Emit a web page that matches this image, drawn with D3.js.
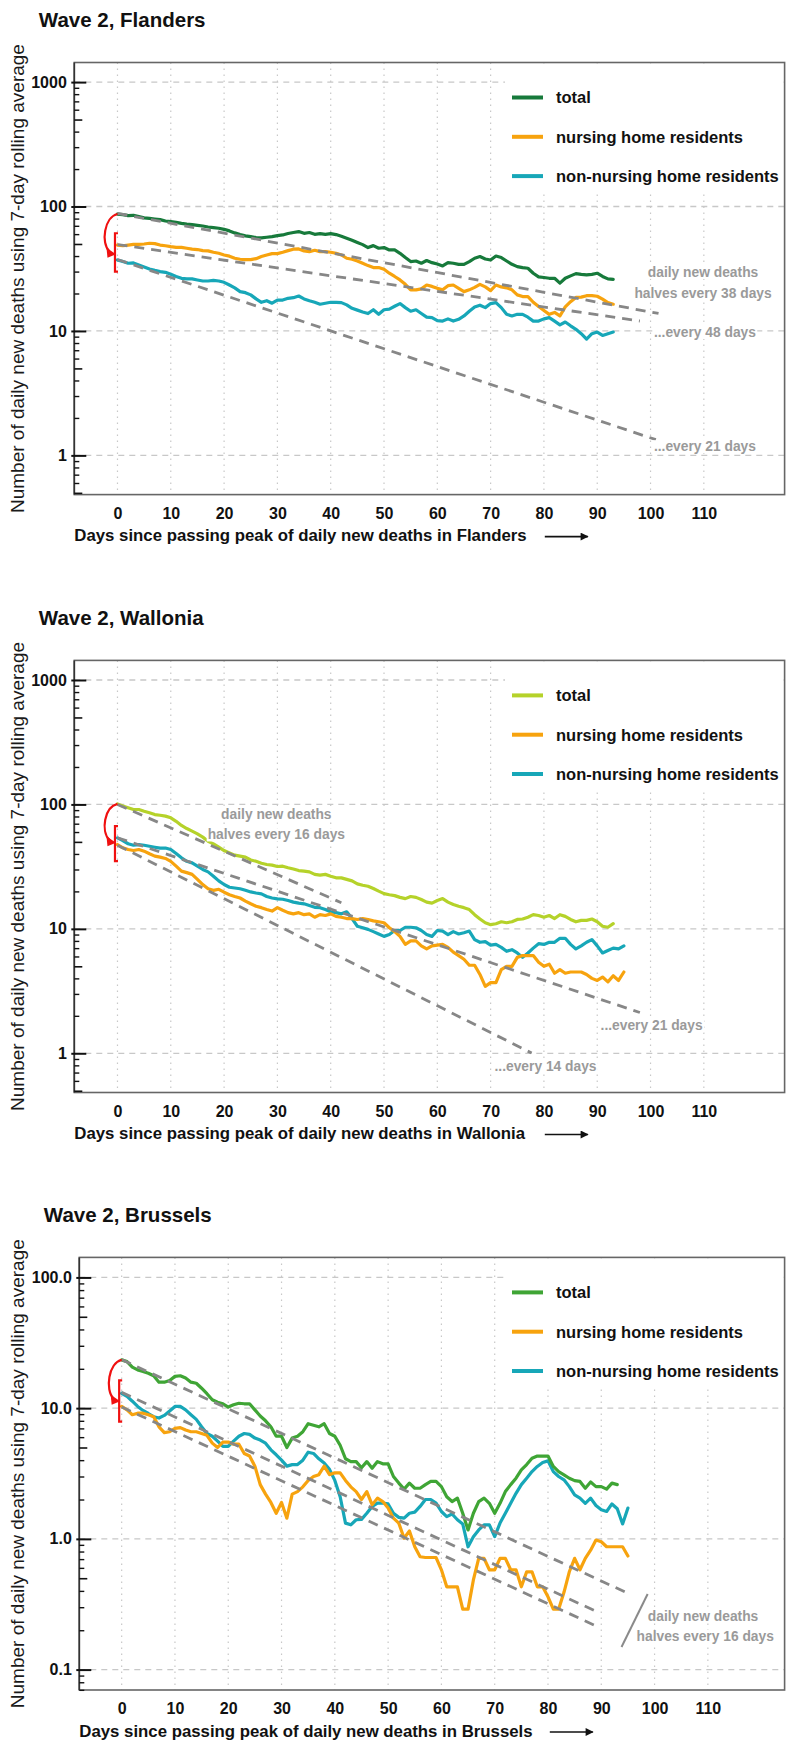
<!DOCTYPE html>
<html><head><meta charset="utf-8">
<script src="https://cdn.jsdelivr.net/npm/d3@7"></script>
<style>
body{margin:0;background:#fff;}
svg{display:block;}
text{font-family:"Liberation Sans",Arial,Helvetica,sans-serif;}
</style></head><body>
<svg id="chart" width="787" height="1741"></svg>
<script>
// ---------------- data (index = days since passing the peak) ----------------
const regionNames = ["Flanders", "Wallonia", "Brussels"];
const seriesNames = ["total", "nursing home residents", "non-nursing home residents"];
const xTickValues = [0,10,20,30,40,50,60,70,80,90,100,110];
const yTicksFW = [1,10,100,1000];
const yTickLabelsFW = ["1","10","100","1000"];
const yTicksB = [0.1,1,10,100];
const yTickLabelsB = ["0.1","1.0","10.0","100.0"];

const flandersTotal = [87,86,84.5,85,83,81,80.4,79.4,78.4,76.5,75.6,74.6,73.3,72.3,71.5,70.6,69.7,68.5,67.7,66.9,65.6,63.7,61.4,59.5,58.1,57.3,56.3,55.9,56.6,57.3,58.4,59.1,60.7,61.8,62.9,60.9,61.8,59.8,60.5,59.8,60.5,59.5,57.6,55.6,53.6,51.4,49.4,46.8,48.5,46.2,46.8,44.8,44.8,42.1,38.9,36.1,36.5,35.0,36.8,35.4,34.5,33.3,35.4,35.0,34.3,34.3,36.1,38.4,39.6,37.9,37.2,40.0,38.9,36.5,34.3,32.9,32.3,31.9,29.1,27.2,26.9,26.5,26.5,24.2,26.5,27.7,28.9,28.5,28.2,28.5,29.1,27.4,26.2,26.0];
const flandersNursing = [49,48.4,49,49.7,49.7,50,50.7,50.3,49,48.4,47.6,47,47,46.2,45.4,45.1,44.2,44,42.9,42.1,40.8,39.9,38.4,37.7,37.4,37.4,38.1,39.6,40.8,41.8,41.8,42.9,44.2,45.4,45.6,44,43.4,44.5,43.4,43.4,42.9,42.1,40.8,38.4,37.7,36.5,35,33.5,32.3,32.3,31.3,29.1,27.4,25.7,23.7,21.4,21.4,21.8,23.4,22.8,22,21.4,23.1,23.4,22,20.7,21.4,22.4,23.7,22.6,21.1,23.4,22.6,22.2,21.4,19.5,18.9,18.9,17,15.7,14.6,13.6,14.1,13.2,15.6,17.2,18.6,18.7,19.2,19.2,19.0,18.0,16.9,16.4];
const flandersNonNursing = [37.2,36.1,35,35.2,33.9,32.7,31.5,30.7,30,29.6,28.6,27.4,26.5,26.2,26.2,25.7,25.2,25.2,25.5,25.2,24.6,23.4,22.2,20.7,20.3,19.5,18.1,17,17.5,16.7,17.7,17.7,18.3,18.5,19.1,18.1,17.5,17,16.4,16.7,17,17,16.9,16.2,15.2,14.7,14.2,13.8,14.8,13.6,14.8,15,15.8,16.6,15.4,14.4,14.8,13.8,12.9,12.8,12.1,12,12.5,12,12.4,13.2,14.4,15.6,16.1,15.4,16.6,16.9,15.4,13.6,13.2,13.6,13.6,12.9,12,12,12.5,12.8,12,11.2,11.8,11,10.3,9.5,8.6,9.5,9.8,9.2,9.5,9.8];

const walloniaTotal = [101,97,94,91,91,88,85.6,82.9,81.8,80.5,78,73.2,67.8,64,61,58,54.6,50.6,48.2,45.3,42.6,40.8,39.1,38.4,37.7,35.8,34.9,33.7,32.9,32.5,31.7,31.9,31,30.3,29.4,29.1,28.7,27.4,27,27.4,26.5,25.7,25.7,25,24.3,23,22.4,22,21.1,20.1,19.2,18.8,18.5,17.9,17.5,18.2,17.9,17.2,16.4,16.1,16.9,17.5,16.4,15.7,15.2,14.8,14.3,13,12,11.2,10.8,11,11.4,11.2,11.4,11.9,12,12.4,13,12.8,12.4,12.8,12.1,13,12.6,11.9,11.4,11.7,11.7,12,11.4,10.5,10.3,11];
const walloniaNursing = [47.6,44.8,43.4,42.6,43.4,42.1,40.1,38.4,37.7,36.8,34.9,31.9,29.1,28.3,27.4,25,22.7,21,20.4,20.8,19.7,18.8,18.2,17.7,16.7,15.9,15.2,14.8,14.3,13.9,14.8,14.1,13.5,13.2,13.5,13,13.2,12.4,13,12.8,13.2,12.6,12.4,12.1,12.1,11.9,12.1,11.9,11.6,11.4,11.2,10.2,9.5,8.7,7.5,8,8,7.3,6.9,7.3,7.4,7.5,7.1,6.5,6.1,5.7,5.1,5.1,4.3,3.45,3.7,3.7,4.7,5,5,5.9,6.1,6.1,6.1,5.4,5,5.2,4.4,4.7,4.4,4.5,4.5,4.5,4.3,4,3.85,4.1,3.75,4.2,3.85,4.5];
const walloniaNonNursing = [53.9,51.2,48.3,47,47.6,47,46.1,45.3,44.6,44.6,43.4,40.3,37.2,34.9,33.9,31.9,30,28.7,26.5,24.3,22.7,21.6,21.3,21,20.4,19.8,19.4,19.1,18.2,17.7,17.4,17.3,16.9,16.4,16.1,15.9,15.4,14.9,14.8,14.3,13.7,13.5,13.2,13.7,12.1,10.5,10.2,9.9,9.5,9.1,8.7,9,9.7,9.7,10.3,10.3,10.2,9.7,9,8.7,9.7,9.6,9,9.5,9.1,9.3,9.6,8.2,7.8,7.9,7.4,7.5,7.1,6.6,6.8,6.4,5.9,6.4,7,7.6,7.5,7.8,7.8,8.4,8.4,7.5,6.9,7.3,7.8,8.2,7.3,6.4,6.7,7,6.9,7.3];

const brusselsTotal = [23.4,22.7,20.6,19.6,19.1,18.5,17.7,15.8,15.8,16.3,17.5,17.7,17,15.8,15.5,14.2,12.9,11.6,11.1,10.8,10.2,10.6,10.9,10.8,10.8,9.7,8.7,8,7.2,6.1,6.1,5,5.9,6.1,6.6,7.6,7.4,7.2,7.6,6.4,6.1,5.2,4.1,3.9,3.9,3.5,3.9,3.47,3.9,3.75,3.75,3.0,2.67,2.4,2.67,2.44,2.44,2.6,2.75,2.75,2.51,2.1,1.93,2.05,1.57,1.17,1.57,1.93,2.05,1.87,1.57,1.87,2.3,2.6,2.91,3.37,3.7,4.14,4.3,4.3,4.3,3.58,3.27,3.09,2.91,2.79,2.75,2.44,2.72,2.51,2.51,2.4,2.67,2.6];
const brusselsNursing = [10.3,9.7,8.9,9.15,9.15,8.9,8.6,7.2,6.5,6.6,7,7.1,6.8,6.6,6.6,6.4,6.2,5.4,5,5.5,5.5,5.3,5.3,4.5,4.3,3.6,2.6,2.2,1.9,1.57,1.9,1.44,2.2,2.3,2.5,2.8,3,3.1,3.6,3.1,3.2,3.2,2.8,2.5,2.3,2,2.3,1.82,2.05,1.93,1.72,1.44,1.32,1.01,1.15,0.87,0.73,0.72,0.72,0.72,0.58,0.43,0.43,0.43,0.29,0.29,0.485,0.71,0.71,0.58,0.58,0.71,0.71,0.58,0.58,0.43,0.56,0.56,0.43,0.43,0.36,0.29,0.29,0.39,0.56,0.71,0.58,0.71,0.82,0.98,0.95,0.87,0.87,0.87,0.87,0.74];
const brusselsNonNursing = [13,12.3,11.3,10.3,9.6,9.1,8.6,8.4,8.8,9.5,10.3,10.3,9.7,8.9,8.2,7.2,6.4,6.1,5.6,5.1,5.1,5.6,6.1,6.4,6.3,5.9,5.7,5.4,4.8,4.4,4,3.6,3.7,3.7,4,4.6,4.5,4.1,3.8,3.4,2.8,2.1,1.32,1.28,1.4,1.41,1.57,1.77,1.88,1.88,1.85,1.57,1.46,1.44,1.57,1.6,1.77,2,2,1.88,1.62,1.48,1.55,1.4,1.3,0.87,1.04,1.17,1.28,1.28,1.04,1.32,1.57,1.87,2.23,2.6,2.91,3.27,3.58,3.84,3.95,3.27,3.0,2.83,2.51,2.17,2.05,1.87,2.05,1.8,1.67,1.62,1.85,1.7,1.3,1.72];

// halving trend lines: start value at day 0, halving time (days), last day drawn
const flandersTrends = [{start:88, half:38, end:101.5},{start:49.5, half:48, end:98},{start:37.5, half:21, end:101}];
const walloniaTrends = [{start:100, half:16, end:42},{start:54, half:21, end:98},{start:47, half:14, end:77.7}];
const brusselsTrends = [{start:23.5, half:16, end:95.5},{start:13.2, half:16, end:89.7},{start:10.2, half:16, end:89.7}];

// red marks at day 0: arrow from total down to a level, bar between two values
const flandersRed = {to:42.6, barTop:61, barBottom:30};
const walloniaRed = {to:50.7, barTop:66.9, barBottom:35};
const brusselsRed = {to:11.6, barTop:16.3, barBottom:7.9};

// annotation texts placed in data coordinates (day, value)
const flandersNotes = [{t:"daily new deaths", d:109.85, v:27.2},{t:"halves every 38 days", d:109.85, v:18.4},{t:"...every 48 days", d:110.2, v:8.95},{t:"...every 21 days", d:110.2, v:1.08}];
const walloniaNotes = [{t:"daily new deaths", d:29.8, v:76.2},{t:"halves every 16 days", d:29.8, v:52.3},{t:"...every 21 days", d:100.2, v:1.53},{t:"...every 14 days", d:80.3, v:0.721}];
const brusselsNotes = [{t:"daily new deaths", d:109.1, v:0.2355},{t:"halves every 16 days", d:109.5, v:0.1656}];
const brusselsSlash = [{d:98.7, v:0.379},{d:93.8, v:0.149}];

// ---------------- layout / style ----------------
const seriesColorsByRegion = [["#177a3b","#f7a30e","#17a7b8"],["#b5d22a","#f7a30e","#17a7b8"],["#3fa535","#f7a30e","#17a7b8"]];
const panels = [
  {region:0, top:62.5, bottom:494.6, left:74.3, right:784.6, xDom:[-8.1,125.15], yDom:[0.484,1437], yTicks:yTicksFW, yLabels:yTickLabelsFW,
   series:[flandersTotal, flandersNursing, flandersNonNursing], trends:flandersTrends, red:flandersRed, notes:flandersNotes, slash:null},
  {region:1, top:660.4, bottom:1092.5, left:74.3, right:784.6, xDom:[-8.1,125.15], yDom:[0.484,1437], yTicks:yTicksFW, yLabels:yTickLabelsFW,
   series:[walloniaTotal, walloniaNursing, walloniaNonNursing], trends:walloniaTrends, red:walloniaRed, notes:walloniaNotes, slash:null},
  {region:2, top:1257.4, bottom:1690, left:79.3, right:784.6, xDom:[-7.95,124.4], yDom:[0.0698,142.3], yTicks:yTicksB, yLabels:yTickLabelsB,
   series:[brusselsTotal, brusselsNursing, brusselsNonNursing], trends:brusselsTrends, red:brusselsRed, notes:brusselsNotes, slash:brusselsSlash}
];

const svg = d3.select("#chart");
const defs = svg.append("defs");
defs.append("marker").attr("id","blackArrow").attr("viewBox","0 0 10 10").attr("refX",9).attr("refY",5)
  .attr("markerWidth",9).attr("markerHeight",8).attr("markerUnits","userSpaceOnUse").attr("orient","auto")
  .append("path").attr("d","M0,0 L10,5 L0,10 Z").attr("fill","#111");

panels.forEach(p => {
  const g = svg.append("g");
  const x = d3.scaleLinear().domain(p.xDom).range([p.left, p.right]);
  const y = d3.scaleLog().domain(p.yDom).range([p.bottom, p.top]);
  const colors = seriesColorsByRegion[p.region];

  // vertical dotted grid
  g.append("g").selectAll("line").data(xTickValues).join("line")
    .attr("x1", d => x(d)).attr("x2", d => x(d)).attr("y1", p.top).attr("y2", p.bottom)
    .attr("stroke", "#c8c8c8").attr("stroke-width", 1.2).attr("stroke-dasharray", "1.5,4.5");
  // horizontal dashed grid at decades
  g.append("g").selectAll("line").data(p.yTicks).join("line")
    .attr("x1", p.left).attr("x2", p.right).attr("y1", d => y(d)).attr("y2", d => y(d))
    .attr("stroke", "#c8c8c8").attr("stroke-width", 1.3).attr("stroke-dasharray", "6,5");

  // legend background
  g.append("rect").attr("x", 505).attr("y", p.top + 1).attr("width", p.right - 506).attr("height", 130).attr("fill", "#fff");

  // data lines
  const line = d3.line().x((d, i) => x(i)).y(d => y(d));
  [2, 1, 0].forEach(k => {
    g.append("path").datum(p.series[k]).attr("d", line).attr("fill", "none")
      .attr("stroke", colors[k]).attr("stroke-width", 3.2).attr("stroke-linejoin", "round").attr("stroke-linecap", "round");
  });

  // trend lines
  g.append("g").selectAll("line").data(p.trends).join("line")
    .attr("x1", x(0)).attr("y1", d => y(d.start))
    .attr("x2", d => x(d.end)).attr("y2", d => y(d.start * Math.pow(0.5, d.end / d.half)))
    .attr("stroke", "#878787").attr("stroke-width", 2.8).attr("stroke-dasharray", "10,7");

  // red marks
  const x0 = x(0), yS = y(p.series[0][0]), yE = y(p.red.to);
  g.append("path").attr("d", `M${x0},${yS} C${x0-13},${yS+3} ${x0-17},${yE-10} ${x0-8},${yE-1}`)
    .attr("fill", "none").attr("stroke", "#f01010").attr("stroke-width", 2.2);
  g.append("path").attr("d", `M${x0-1.5},${yE+1.5} L${x0-11},${yE-5} L${x0-10},${yE+5} Z`).attr("fill", "#f01010");
  const xb = x0 - 2.5, yb1 = y(p.red.barTop), yb2 = y(p.red.barBottom);
  g.append("path").attr("d", `M${xb+3},${yb1} L${xb},${yb1} L${xb},${yb2} L${xb+3},${yb2}`)
    .attr("fill", "none").attr("stroke", "#f01010").attr("stroke-width", 2.2);

  // annotations
  const notes = g.append("g");
  p.notes.forEach(n => {
    const t = notes.append("text").attr("x", x(n.d)).attr("y", y(n.v)).attr("text-anchor", "middle")
      .attr("font-size", 13.8).attr("font-weight", "bold").attr("fill", "#9a9a9a").text(n.t);
    const bb = t.node().getBBox();
    notes.insert("rect", "text").attr("x", bb.x - 1).attr("y", bb.y + 1).attr("width", bb.width + 2).attr("height", bb.height - 2).attr("fill", "#fff");
  });
  notes.selectAll("text").raise();
  if (p.slash) {
    g.append("line").attr("x1", x(p.slash[0].d)).attr("y1", y(p.slash[0].v)).attr("x2", x(p.slash[1].d)).attr("y2", y(p.slash[1].v))
      .attr("stroke", "#8a8a8a").attr("stroke-width", 2);
  }

  // legend
  const lg = g.append("g");
  seriesNames.forEach((s, k) => {
    const cy = p.top + 35 + k * 39.3;
    lg.append("line").attr("x1", 512).attr("x2", 543).attr("y1", cy).attr("y2", cy).attr("stroke", colors[k]).attr("stroke-width", 4);
    lg.append("text").attr("x", 556).attr("y", cy + 5.9).attr("font-size", 16.5).attr("font-weight", "bold").attr("fill", "#111").text(s);
  });

  // frame
  g.append("rect").attr("x", p.left).attr("y", p.top).attr("width", p.right - p.left).attr("height", p.bottom - p.top)
    .attr("fill", "none").attr("stroke", "#666").attr("stroke-width", 1.6);
  g.append("line").attr("x1", p.left).attr("x2", p.left).attr("y1", p.top).attr("y2", p.bottom).attr("stroke", "#333").attr("stroke-width", 1.6);

  // y ticks: majors, medium (5x) and minor
  const lo = Math.floor(Math.log10(p.yDom[0])), hi = Math.ceil(Math.log10(p.yDom[1]));
  const med = [], minor = [];
  for (let e = lo; e <= hi; e++) {
    for (let k = 2; k <= 9; k++) {
      const v = +(k * Math.pow(10, e)).toPrecision(6);
      if (v < p.yDom[0] || v > p.yDom[1]) continue;
      (k === 5 ? med : minor).push(v);
    }
  }
  const styleAxis = sel => { sel.select(".domain").remove(); sel.selectAll("line").attr("stroke", "#111"); };
  g.append("g").attr("transform", `translate(${p.left - 3},0)`)
    .call(d3.axisRight(y).tickValues(p.yTicks).tickSize(15).tickFormat(""))
    .call(styleAxis).selectAll("line").attr("stroke-width", 2);
  g.append("g").attr("transform", `translate(${p.left},0)`)
    .call(d3.axisRight(y).tickValues(med).tickSize(8).tickFormat(""))
    .call(styleAxis).selectAll("line").attr("stroke-width", 1.6);
  g.append("g").attr("transform", `translate(${p.left},0)`)
    .call(d3.axisRight(y).tickValues(minor).tickSize(5).tickFormat(""))
    .call(styleAxis).selectAll("line").attr("stroke-width", 1.4);
  const yl = g.append("g").attr("transform", `translate(${p.left},0)`)
    .call(d3.axisLeft(y).tickValues(p.yTicks).tickSize(0).tickPadding(7.5).tickFormat((d, i) => p.yLabels[i]));
  yl.select(".domain").remove();
  yl.attr("font-family", null).attr("font-size", null);
  yl.selectAll("text").attr("font-size", 16).attr("font-weight", "bold").attr("fill", "#111");

  // x tick labels
  const xl = g.append("g").attr("transform", `translate(0,${p.bottom})`)
    .call(d3.axisBottom(x).tickValues(xTickValues).tickSize(0).tickPadding(13).tickFormat(d3.format("d")));
  xl.select(".domain").remove();
  xl.attr("font-family", null).attr("font-size", null);
  xl.selectAll("text").attr("font-size", 16).attr("font-weight", "bold").attr("fill", "#111");

  // titles
  g.append("text").attr("x", p.left - 35.5).attr("y", p.top - 35.5).attr("font-size", 20.5).attr("font-weight", "bold").attr("fill", "#111")
    .text(`Wave 2, ${regionNames[p.region]}`);
  g.append("text").attr("transform", `translate(23.6,${(p.top + p.bottom) / 2}) rotate(-90)`).attr("text-anchor", "middle")
    .attr("font-size", 19).attr("fill", "#1a1a1a").text("Number of daily new deaths using 7-day rolling average");
  g.append("text").attr("x", p.left).attr("y", p.bottom + 46.5).attr("font-size", 16.8).attr("font-weight", "bold").attr("fill", "#111")
    .text(`Days since passing peak of daily new deaths in ${regionNames[p.region]}`);
  g.append("line").attr("x1", p.left + 470.5).attr("x2", p.left + 513.5).attr("y1", p.bottom + 42).attr("y2", p.bottom + 42)
    .attr("stroke", "#111").attr("stroke-width", 1.6).attr("marker-end", "url(#blackArrow)");
});
</script>
</body></html>
